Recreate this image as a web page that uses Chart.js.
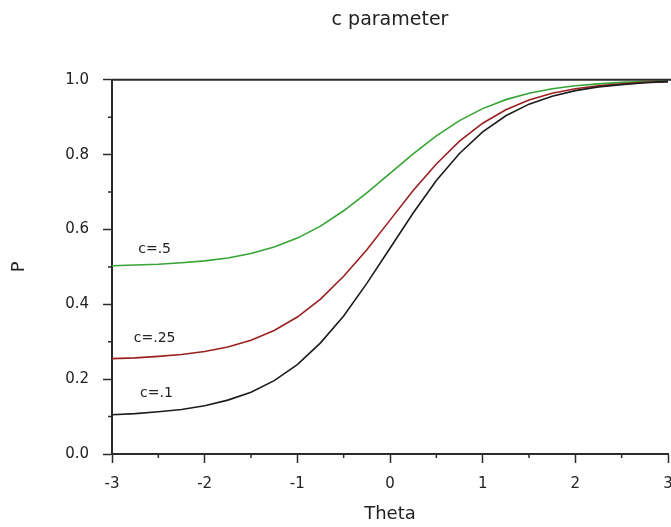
<!DOCTYPE html>
<html lang="en">
  <head>
    <meta charset="UTF-8" />
    <title>c parameter</title>
    <script src="https://cdn.jsdelivr.net/npm/chart.js"></script>
    <style>
      html,
      body {
        margin: 0;
        padding: 0;
        background: #fff;
      }
      .chart-container {
        width: 671px;
        height: 527px;
      }
    </style>
  </head>
  <body>
    <div class="chart-container">
      <canvas id="cChart"></canvas>
    </div>

    <script>
      const theta = [
        -3, -2.75, -2.5, -2.25, -2, -1.75, -1.5, -1.25, -1, -0.75, -0.5, -0.25,
        0, 0.25, 0.5, 0.75, 1, 1.25, 1.5, 1.75, 2, 2.25, 2.5, 2.75, 3,
      ];

      // P for c = .1
      const pC10 = [
        0.105, 0.108, 0.113, 0.119, 0.129, 0.144, 0.165, 0.196, 0.239, 0.297,
        0.369, 0.456, 0.55, 0.644, 0.731, 0.803, 0.861, 0.904, 0.935, 0.956,
        0.971, 0.981, 0.987, 0.992, 0.995,
      ];

      // P for c = .25
      const pC25 = [
        0.255, 0.257, 0.261, 0.266, 0.274, 0.286, 0.304, 0.33, 0.366, 0.414,
        0.475, 0.546, 0.625, 0.704, 0.775, 0.836, 0.884, 0.92, 0.946, 0.964,
        0.976, 0.984, 0.989, 0.993, 0.995,
      ];

      // P for c = .5
      const pC50 = [
        0.503, 0.505, 0.507, 0.511, 0.516, 0.524, 0.536, 0.553, 0.577, 0.609,
        0.65, 0.698, 0.75, 0.802, 0.85, 0.891, 0.923, 0.947, 0.964, 0.976,
        0.984, 0.989, 0.993, 0.995, 0.997,
      ];

      const seriesNames = ["c=.1", "c=.25", "c=.5"];
      const seriesColors = ["#1c1c1c", "#9b2020", "#35a535"];

      // where the curve names sit, in data units
      const nameTheta = [-2.52, -2.54, -2.54];
      const nameP = [0.162, 0.31, 0.547];

      const xMinor = [-2.5, -1.5, -0.5, 0.5, 1.5, 2.5];
      const yMinor = [0.1, 0.3, 0.5, 0.7, 0.9];

      const axisColor = "#2b2b2b";
      const textColor = "#222";
      const fontFamily = "'DejaVu Sans', sans-serif";

      const toPoints = (ys) => ys.map((y, i) => ({ x: theta[i], y: y }));
      const allSeries = [pC10, pC25, pC50];

      const datasets = allSeries.map((ys, i) => ({
        label: seriesNames[i],
        data: toPoints(ys),
        borderColor: seriesColors[i],
        borderWidth: 1.6,
        pointRadius: 0,
        tension: 0,
        fill: false,
      }));

      // top frame line, minor ticks and the curve names
      const extras = {
        id: "extras",
        afterDraw(chart) {
          const { ctx, chartArea, scales } = chart;
          ctx.save();
          ctx.strokeStyle = axisColor;
          ctx.lineWidth = 2;
          ctx.beginPath();
          ctx.moveTo(chartArea.left, chartArea.top);
          ctx.lineTo(chart.width, chartArea.top);
          ctx.stroke();

          ctx.lineWidth = 1.5;
          ctx.beginPath();
          xMinor.forEach((v) => {
            const px = scales.x.getPixelForValue(v);
            ctx.moveTo(px, chartArea.bottom);
            ctx.lineTo(px, chartArea.bottom + 4);
          });
          yMinor.forEach((v) => {
            const py = scales.y.getPixelForValue(v);
            ctx.moveTo(chartArea.left, py);
            ctx.lineTo(chartArea.left - 4, py);
          });
          ctx.stroke();

          ctx.font = "14px " + fontFamily;
          ctx.fillStyle = textColor;
          ctx.textAlign = "center";
          ctx.textBaseline = "middle";
          seriesNames.forEach((name, i) => {
            ctx.fillText(
              name,
              scales.x.getPixelForValue(nameTheta[i]),
              scales.y.getPixelForValue(nameP[i])
            );
          });
          ctx.restore();
        },
      };

      const config = {
        type: "line",
        data: { datasets: datasets },
        options: {
          responsive: true,
          maintainAspectRatio: false,
          animation: false,
          layout: { padding: { left: 0, right: 0, top: 0, bottom: 0 } },
          plugins: {
            legend: { display: false },
            tooltip: { enabled: false },
            title: {
              display: true,
              text: "c parameter",
              fullSize: false,
              color: textColor,
              font: { family: fontFamily, size: 19, weight: "normal" },
              padding: { top: 9, bottom: 48 },
            },
          },
          scales: {
            x: {
              type: "linear",
              min: -3,
              max: 3,
              afterFit: (s) => {
                s.height = 73;
                // let the last label run off the edge like the original
                s.paddingRight = 3;
              },
              grid: {
                drawOnChartArea: false,
                drawTicks: true,
                tickLength: 9,
                tickColor: axisColor,
                tickWidth: 1.5,
              },
              border: { display: true, color: axisColor, width: 2 },
              ticks: {
                stepSize: 1,
                padding: 12,
                color: textColor,
                font: { family: fontFamily, size: 15 },
                maxRotation: 0,
              },
              title: {
                display: true,
                text: "Theta",
                color: textColor,
                font: { family: fontFamily, size: 18 },
                padding: { top: 0, bottom: 2 },
              },
            },
            y: {
              type: "linear",
              min: 0,
              max: 1,
              afterFit: (s) => {
                s.width = 112;
              },
              grid: {
                drawOnChartArea: false,
                drawTicks: true,
                tickLength: 9,
                tickColor: axisColor,
                tickWidth: 1.5,
              },
              border: { display: true, color: axisColor, width: 2 },
              ticks: {
                stepSize: 0.2,
                padding: 14,
                color: textColor,
                font: { family: fontFamily, size: 15 },
                callback: (v) => v.toFixed(1),
              },
              title: {
                display: true,
                text: "P",
                color: textColor,
                font: { family: fontFamily, size: 18 },
                padding: { top: 9, bottom: 0 },
              },
            },
          },
        },
        plugins: [extras],
      };

      window.onload = function () {
        const ctx = document.getElementById("cChart").getContext("2d");
        new Chart(ctx, config);
      };
    </script>
  </body>
</html>
